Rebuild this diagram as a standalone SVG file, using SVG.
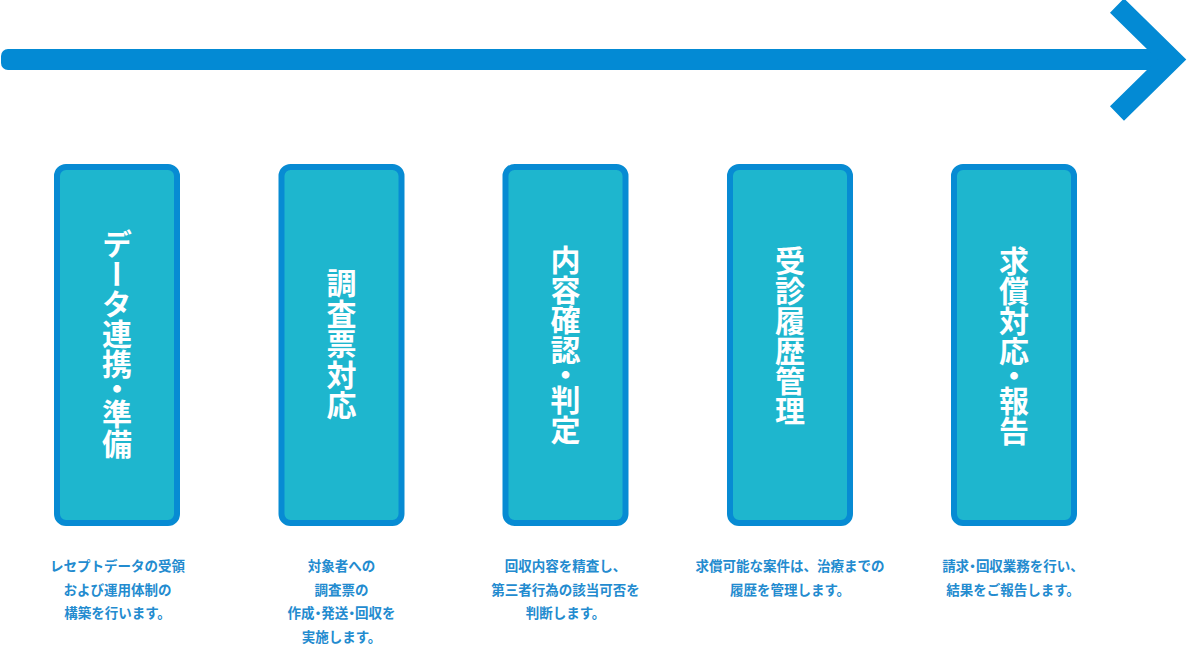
<svg xmlns="http://www.w3.org/2000/svg" width="1187" height="647" viewBox="0 0 1187 647">
<style>
.box{fill:#1EB6CE;stroke:#078BD3;stroke-width:6}
.vt{font-family:"Noto Sans CJK JP","Noto Sans CJK SC",sans-serif;font-weight:700;font-size:30px;fill:#FFFFFF;writing-mode:vertical-rl}
.desc{font-family:"Noto Sans CJK JP","Noto Sans CJK SC",sans-serif;font-weight:700;font-size:13.5px;fill:#238BCF;text-anchor:middle}
.dot{font-feature-settings:"palt" 1}
</style>
<rect width="1187" height="647" fill="#FFFFFF"/>
<g id="connectors">
  <rect x="1" y="49" width="1165" height="21" rx="7" fill="#038AD4"/>
  <polyline points="1117,5.5 1172,59.5 1117,113.5" fill="none" stroke="#038AD4" stroke-width="20" stroke-linejoin="miter" stroke-miterlimit="10"/>
</g>
<g id="node1">
  <rect class="box" x="57" y="167" width="120" height="356" rx="9"/>
  <text class="vt" x="117" y="229">データ連携<tspan dy="-5">・</tspan><tspan dy="-5">準備</tspan></text>
</g>
<g id="node2">
  <rect class="box" x="281.5" y="167" width="120" height="356" rx="9"/>
  <text class="vt" x="341.5" y="268" style="letter-spacing:0.5px">調査票対応</text>
</g>
<g id="node3">
  <rect class="box" x="505.5" y="167" width="120" height="356" rx="9"/>
  <text class="vt" x="565.5" y="245">内容確認<tspan dy="-5">・</tspan><tspan dy="-5">判定</tspan></text>
</g>
<g id="node4">
  <rect class="box" x="730" y="167" width="120" height="356" rx="9"/>
  <text class="vt" x="790" y="246">受診履歴管理</text>
</g>
<g id="node5">
  <rect class="box" x="954" y="167" width="120" height="356" rx="9"/>
  <text class="vt" x="1014" y="246">求償対応<tspan dy="-5">・</tspan><tspan dy="-5">報告</tspan></text>
</g>
<g id="descriptions">
  <text class="desc" x="117.5" y="571">レセプトデータの受領</text>
  <text class="desc" x="117.5" y="594.5">および運用体制の</text>
  <text class="desc" x="117.5" y="618">構築を行います。</text>
  <text class="desc" x="341.5" y="571">対象者への</text>
  <text class="desc" x="341.5" y="594.5">調査票の</text>
  <text class="desc" x="341.5" y="618">作成<tspan class="dot">・</tspan>発送<tspan class="dot">・</tspan>回収を</text>
  <text class="desc" x="341.5" y="641.5">実施します。</text>
  <text class="desc" x="565.5" y="571">回収内容を精査し、</text>
  <text class="desc" x="565.5" y="594.5">第三者行為の該当可否を</text>
  <text class="desc" x="565.5" y="618">判断します。</text>
  <text class="desc" x="790" y="571">求償可能な案件は、治療までの</text>
  <text class="desc" x="790" y="594.5">履歴を管理します。</text>
  <text class="desc" x="1013" y="571">請求<tspan class="dot">・</tspan>回収業務を行い、</text>
  <text class="desc" x="1013" y="594.5">結果をご報告します。</text>
</g>
</svg>
